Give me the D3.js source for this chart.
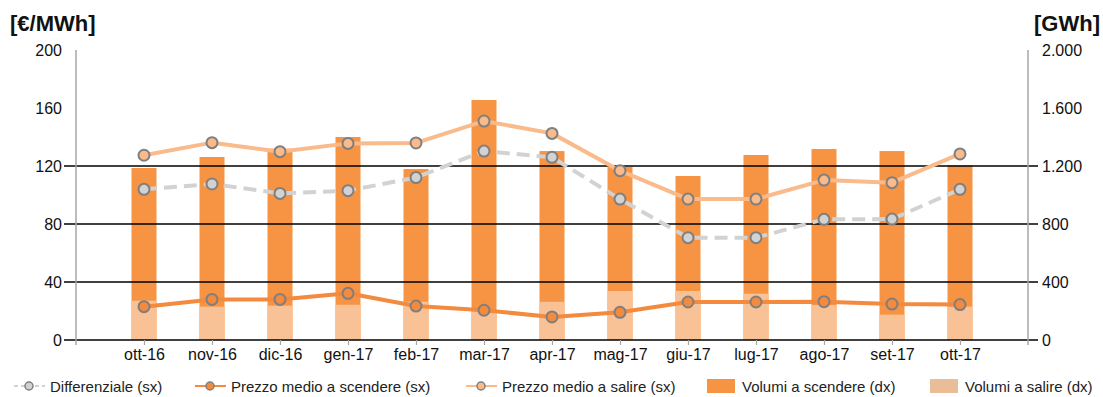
<!DOCTYPE html>
<html>
<head>
<meta charset="utf-8">
<script src="https://cdn.jsdelivr.net/npm/d3@7"></script>
<style>
  html, body { margin: 0; padding: 0; background: #fff; }
  svg { display: block; font-family: "Liberation Sans", Arial, sans-serif; }
</style>
</head>
<body>
<svg id="chart" width="1103" height="397"></svg>
<script>
// Months of the period
const months = ["ott-16","nov-16","dic-16","gen-17","feb-17","mar-17","apr-17",
                "mag-17","giu-17","lug-17","ago-17","set-17","ott-17"];

// Volumes [GWh] (right axis)
const volumiScendere = [1186, 1262, 1320, 1400, 1179, 1655, 1303, 1193, 1131, 1276, 1317, 1303, 1205];
const volumiSalire   = [271, 230, 237, 243, 264, 198, 263, 338, 338, 319, 241, 175, 230];

// Prices [€/MWh] (left axis)
const prezzoSalire   = [127.4, 136.1, 129.9, 135.6, 135.9, 151.0, 142.5, 116.8, 97.2, 97.2, 110.3, 108.5, 128.3];
const prezzoScendere = [23.0, 28.0, 28.0, 32.2, 23.4, 20.5, 15.9, 19.1, 26.2, 26.2, 26.4, 24.8, 24.4];
const differenziale  = [103.9, 107.6, 101.1, 103.0, 112.0, 130.3, 126.0, 97.2, 70.6, 70.6, 83.2, 83.4, 103.9];

// Axis ticks
const leftTicks  = [0, 40, 80, 120, 160, 200];
const rightTicks = [0, 400, 800, 1200, 1600, 2000];
const gridTicks  = [0, 40, 80, 120];

const svg = d3.select("#chart");
const plotL = 76, plotR = 1028, plotT = 50, plotB = 340;

const x = d3.scalePoint().domain(months).range([plotL, plotR]).padding(1);
const yL = d3.scaleLinear().domain([0, 200]).range([plotB, plotT]);
const yR = d3.scaleLinear().domain([0, 2000]).range([plotB, plotT]);
const fmtR = d3.formatLocale({decimal: ",", thousands: ".", grouping: [3], currency: ["", "€"]}).format(",d");

const C = {
  barDown: "#F79443",
  barUp: "#F9C296",
  lineDown: "#F38A3E",
  lineUp: "#F9BA8C",
  diff: "#D2D2D2",
  marker: "#7F7F7F",
  axis: "#A6A6A6"
};

// Axis titles
svg.append("text").attr("x", 10).attr("y", 31)
  .attr("font-size", 22).attr("font-weight", "bold").attr("fill", "#111").text("[€/MWh]");
svg.append("text").attr("x", 1100).attr("y", 31).attr("text-anchor", "end")
  .attr("font-size", 22).attr("font-weight", "bold").attr("fill", "#111").text("[GWh]");

// Bars: volumes
const bw = 25;
svg.append("g").selectAll("rect").data(months).join("rect")
  .attr("x", d => x(d) - bw / 2).attr("width", bw)
  .attr("y", (d, i) => yR(volumiScendere[i]))
  .attr("height", (d, i) => plotB - yR(volumiScendere[i]))
  .attr("fill", C.barDown);
svg.append("g").selectAll("rect").data(months).join("rect")
  .attr("x", d => x(d) - bw / 2).attr("width", bw)
  .attr("y", (d, i) => yR(volumiSalire[i]))
  .attr("height", (d, i) => plotB - yR(volumiSalire[i]))
  .attr("fill", C.barUp);

// Horizontal grid lines
svg.append("g").selectAll("line").data(gridTicks).join("line")
  .attr("x1", 64).attr("x2", 1038)
  .attr("y1", d => yL(d)).attr("y2", d => yL(d))
  .attr("stroke", "#000").attr("stroke-width", 1.3);

// Left axis
const gL = svg.append("g").attr("transform", `translate(${plotL},0)`)
  .call(d3.axisLeft(yL).tickValues(leftTicks).tickSize(0).tickPadding(14));
gL.select(".domain").remove();
gL.selectAll("text").attr("font-size", 16).attr("fill", "#111")
  .attr("font-family", "Liberation Sans, Arial, sans-serif");
svg.append("line").attr("x1", plotL).attr("x2", plotL).attr("y1", plotT).attr("y2", plotB + 5)
  .attr("stroke", C.axis).attr("stroke-width", 1.5);

// Right axis
const gR = svg.append("g").attr("transform", `translate(${plotR},0)`)
  .call(d3.axisRight(yR).tickValues(rightTicks).tickSize(0).tickPadding(14).tickFormat(fmtR));
gR.select(".domain").remove();
gR.selectAll("text").attr("font-size", 16).attr("fill", "#111")
  .attr("font-family", "Liberation Sans, Arial, sans-serif");
svg.append("line").attr("x1", plotR).attr("x2", plotR).attr("y1", plotT).attr("y2", plotB + 5)
  .attr("stroke", C.axis).attr("stroke-width", 1.5);

// Bottom axis
const gB = svg.append("g").attr("transform", `translate(0,${plotB})`)
  .call(d3.axisBottom(x).tickSize(5).tickPadding(4));
gB.select(".domain").remove();
gB.selectAll("line").attr("stroke", C.axis).attr("stroke-width", 1.2);
gB.selectAll("text").attr("font-size", 16).attr("fill", "#111")
  .attr("font-family", "Liberation Sans, Arial, sans-serif");

// Price lines
const line = d3.line().x((d, i) => x(months[i])).y(d => yL(d));

function series(values, color, dash) {
  const g = svg.append("g");
  g.append("path").datum(values).attr("d", line)
    .attr("fill", "none").attr("stroke", color).attr("stroke-width", 4)
    .attr("stroke-dasharray", dash || null).attr("stroke-linejoin", "round");
  g.selectAll("circle").data(values).join("circle")
    .attr("cx", (d, i) => x(months[i])).attr("cy", d => yL(d)).attr("r", 5.5)
    .attr("fill", color).attr("stroke", C.marker).attr("stroke-width", 2);
}
series(differenziale, C.diff, "13,7");
series(prezzoScendere, C.lineDown);
series(prezzoSalire, C.lineUp);

// Legend
const ly = 386;
const legend = svg.append("g").attr("font-size", 15).attr("fill", "#222");
function lineItem(x0, color, dash, label) {
  legend.append("line").attr("x1", x0).attr("x2", x0 + 31).attr("y1", ly).attr("y2", ly)
    .attr("stroke", color).attr("stroke-width", 2).attr("stroke-dasharray", dash || null);
  legend.append("circle").attr("cx", x0 + 15).attr("cy", ly).attr("r", 4)
    .attr("fill", color).attr("stroke", C.marker).attr("stroke-width", 1.5);
  legend.append("text").attr("x", x0 + 36).attr("y", ly + 5.5).text(label);
}
function boxItem(x0, color, label) {
  legend.append("rect").attr("x", x0).attr("y", ly - 7).attr("width", 28).attr("height", 14)
    .attr("fill", color);
  legend.append("text").attr("x", x0 + 35).attr("y", ly + 5.5).text(label);
}
lineItem(14, C.diff, "4,3", "Differenziale (sx)");
lineItem(195, C.lineDown, null, "Prezzo medio a scendere (sx)");
lineItem(466, C.lineUp, null, "Prezzo medio a salire (sx)");
boxItem(707, C.barDown, "Volumi a scendere (dx)");
boxItem(930, "#E9BD97", "Volumi a salire (dx)");
</script>
</body>
</html>
